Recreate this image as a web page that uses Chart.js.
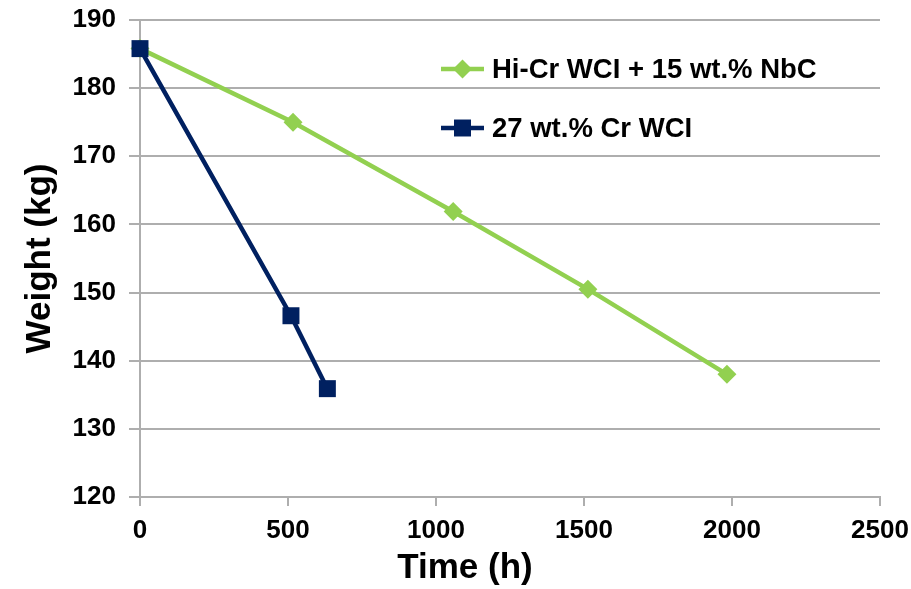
<!DOCTYPE html>
<html>
<head>
<meta charset="utf-8">
<script src="https://cdn.jsdelivr.net/npm/chart.js@4/dist/chart.umd.min.js"></script>
<style>
  html, body { margin: 0; padding: 0; background: #fff; }
  #wrap { width: 911px; height: 589px; }
</style>
</head>
<body>
<div id="wrap"><canvas id="chart" width="911" height="589"></canvas></div>
<script>
const nbcLabel = 'Hi-Cr WCI + 15 wt.% NbC';
const nbcTime = [0, 517, 1058, 1513, 1983];
const nbcWeight = [185.8, 175.0, 161.9, 150.5, 138.0];

const crLabel = '27 wt.% Cr WCI';
const crTime = [0, 510, 633];
const crWeight = [185.8, 146.6, 135.9];

const xTicks = [0, 500, 1000, 1500, 2000, 2500];
const yTicks = [120, 130, 140, 150, 160, 170, 180, 190];
const xTitle = 'Time (h)';
const yTitle = 'Weight (kg)';

const GREEN = '#92d050';
const NAVY = '#002060';
const GRID = '#aeaeae';
const FONT = "'Liberation Sans', Arial, sans-serif";

const toPoints = (xs, ys) => xs.map((x, i) => ({ x, y: ys[i] }));

// labels may overhang the plot, don't let them push it inwards
const noOverhang = (scale) => {
  scale.paddingLeft = 0;
  scale.paddingRight = 0;
  scale.paddingTop = 0;
  scale.paddingBottom = 0;
};

// legend sits inside the plot area, x title sits left of plot centre -> drawn by hand
const extras = {
  id: 'extras',
  afterDraw(chart) {
    const ctx = chart.ctx;
    const items = [
      { label: nbcLabel, color: GREEN, style: 'rectRot', radius: 9.5, y: 69 },
      { label: crLabel, color: NAVY, style: 'rect', radius: 12, y: 128 },
    ];
    ctx.save();
    items.forEach((it) => {
      ctx.strokeStyle = it.color;
      ctx.lineWidth = 4.5;
      ctx.beginPath();
      ctx.moveTo(441, it.y);
      ctx.lineTo(484, it.y);
      ctx.stroke();
      ctx.fillStyle = it.color;
      Chart.helpers.drawPoint(ctx, { pointStyle: it.style, radius: it.radius, borderWidth: 0, rotation: 0 }, 462.5, it.y);
      ctx.fillStyle = '#000';
      ctx.font = `bold 27.5px ${FONT}`;
      ctx.textBaseline = 'middle';
      ctx.fillText(it.label, 492, it.y + 1);
    });
    ctx.font = `bold 35px ${FONT}`;
    ctx.textAlign = 'center';
    ctx.textBaseline = 'alphabetic';
    ctx.fillText(xTitle, 465, 578);
    ctx.restore();
  },
};

new Chart(document.getElementById('chart'), {
  type: 'scatter',
  data: {
    datasets: [
      {
        label: nbcLabel,
        data: toPoints(nbcTime, nbcWeight),
        showLine: true,
        borderColor: GREEN,
        backgroundColor: GREEN,
        borderWidth: 4.5,
        pointStyle: 'rectRot',
        pointRadius: 9.5,
        pointBorderWidth: 0,
        clip: false,
        order: 1,
      },
      {
        label: crLabel,
        data: toPoints(crTime, crWeight),
        showLine: true,
        borderColor: NAVY,
        backgroundColor: NAVY,
        borderWidth: 4.5,
        pointStyle: 'rect',
        pointRadius: 12,
        pointBorderWidth: 0,
        clip: false,
        order: 0,
      },
    ],
  },
  options: {
    responsive: false,
    animation: false,
    layout: { padding: { top: 20, right: 31, left: 19, bottom: 4 } },
    plugins: { legend: { display: false }, tooltip: { enabled: false } },
    scales: {
      x: {
        type: 'linear',
        min: 0,
        max: 2500,
        afterBuildTicks: (scale) => { scale.ticks = xTicks.map((v) => ({ value: v })); },
        grid: { drawOnChartArea: false, drawTicks: true, tickLength: 9, color: GRID, lineWidth: 2 },
        border: { display: true, color: GRID, width: 2 },
        ticks: { color: '#000', font: { family: FONT, size: 26, weight: 'bold' }, padding: 9, maxRotation: 0, callback: (v) => String(v) },
        afterFit: (scale) => { scale.height = 88; noOverhang(scale); },
      },
      y: {
        type: 'linear',
        min: 120,
        max: 190,
        afterBuildTicks: (scale) => { scale.ticks = yTicks.map((v) => ({ value: v })); },
        grid: { drawTicks: true, tickLength: 11, color: GRID, lineWidth: 2 },
        border: { display: true, color: GRID, width: 2 },
        ticks: { color: '#000', font: { family: FONT, size: 26, weight: 'bold' }, padding: 13, callback: (v) => String(v) },
        title: { display: true, text: yTitle, color: '#000', font: { family: FONT, size: 35, weight: 'bold' }, padding: { top: 0, bottom: 6 } },
        afterFit: (scale) => { scale.width = 121; noOverhang(scale); },
      },
    },
  },
  plugins: [extras],
});
</script>
</body>
</html>
